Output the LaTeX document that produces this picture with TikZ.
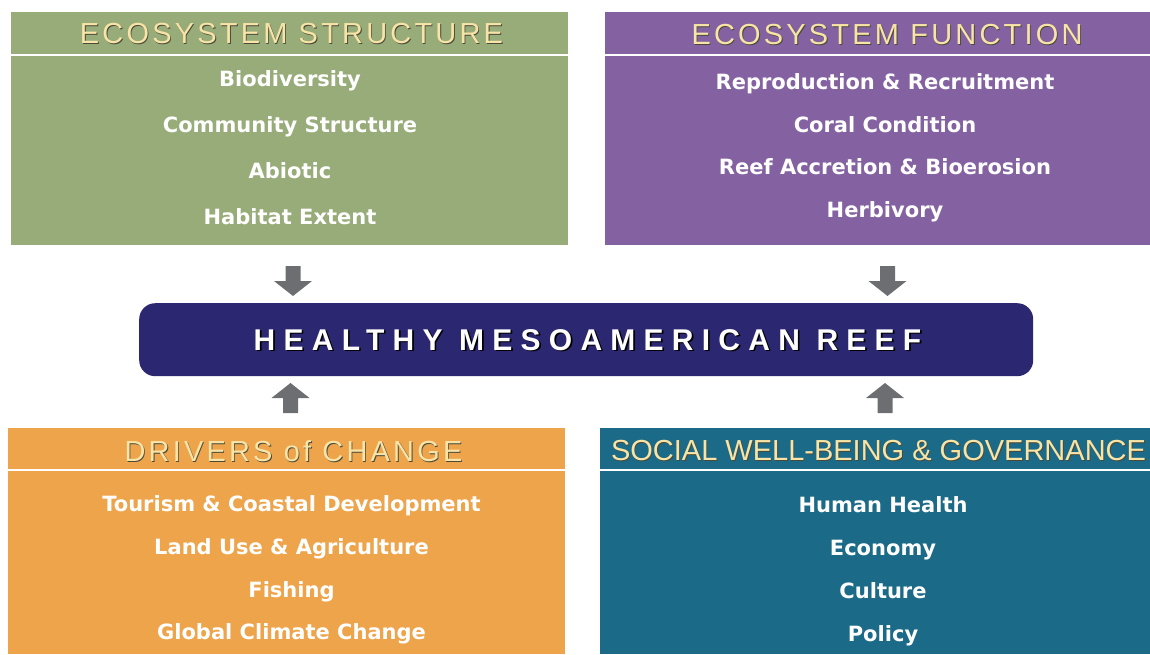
\documentclass[tikz,border=0pt]{standalone}
\usepackage{fontspec}
\setmainfont{DejaVu Sans}
\newfontfamily\headfont{Liberation Sans}
\newfontfamily\titlefont{Liberation Sans}
\usetikzlibrary{positioning}

\definecolor{structgreen}{HTML}{98AC7A}
\definecolor{funcpurple}{HTML}{8462A2}
\definecolor{driverorange}{HTML}{EEA44B}
\definecolor{socialteal}{HTML}{1B6A87}
\definecolor{reefnavy}{HTML}{2B2771}
\definecolor{headcream}{HTML}{F7E4A6}
\definecolor{headshade}{HTML}{4A4A3A}
\definecolor{arrowgray}{HTML}{6D6E71}

\tikzset{
  panel/.style={fill=#1, draw=none, anchor=north west, inner sep=0pt},
  rule/.style={draw=white, line width=2pt},
  headtext/.style={text=headcream, inner sep=0pt, anchor=center},
  headshadow/.style={text=headshade, inner sep=0pt, anchor=center, xshift=0.9pt, yshift=-0.9pt},
  item/.style={text=white, inner sep=0pt, anchor=center,
    font=\bfseries\fontsize{21}{21}\selectfont, text height=15pt, text depth=4pt},
  titlestyle/.style={inner sep=0pt,
    font=\titlefont\bfseries\fontsize{30}{30}\selectfont\addfontfeature{LetterSpace=27.5}},
  downarrow/.pic={\fill[arrowgray] (-7.5,-15) -- (7.5,-15) -- (7.5,0) -- (19,0)
      -- (0,15) -- (-19,0) -- (-7.5,0) -- cycle;},
}

% header label in cream with a dark drop shadow
\newcommand\panelhead[4]{% name, position, letter spacing, text
  \node[headshadow, font=\headfont\fontsize{29}{29}\selectfont\addfontfeature{LetterSpace=#3}] at (#2) {#4};
  \node[headtext, font=\headfont\fontsize{29}{29}\selectfont\addfontfeature{LetterSpace=#3}] (#1) at (#2) {#4};
}

\begin{document}
\begin{tikzpicture}[x=1pt, y=-1pt]
  \useasboundingbox (0,0) rectangle (1150,654);

  % four panels
  \node[panel=structgreen, minimum width=557pt, minimum height=233pt] (structure) at (11,12) {};
  \node[panel=funcpurple, minimum width=545pt, minimum height=233pt] (function) at (605,12) {};
  \node[panel=driverorange, minimum width=557pt, minimum height=226pt] (drivers) at (8,428) {};
  \node[panel=socialteal, minimum width=550pt, minimum height=226pt] (social) at (600,428) {};

  % separators under the panel headers
  \draw[rule] (11,55) -- (568,55);
  \draw[rule] (605,54.5) -- (1150,54.5);
  \draw[rule] (8,469.5) -- (565,469.5);
  \draw[rule] (600,469.5) -- (1150,469.5);

  % panel headers
  \panelhead{structhead}{291.5,34}{11}{ECOSYSTEM STRUCTURE}
  \panelhead{funchead}{887,35}{11}{ECOSYSTEM FUNCTION}
  \panelhead{drivhead}{293.5,451}{11}{DRIVERS of CHANGE}
  \panelhead{sochead}{878.5,451}{0}{SOCIAL WELL-BEING \& GOVERNANCE}

  % ecosystem structure
  \node[item] (s1) at (290,81) {Biodiversity};
  \node[item] (s2) at (290,127) {Community Structure};
  \node[item] (s3) at (290,173) {Abiotic};
  \node[item] (s4) at (290,219) {Habitat Extent};

  % ecosystem function
  \node[item] (f1) at (885,84) {Reproduction \& Recruitment};
  \node[item] (f2) at (885,127) {Coral Condition};
  \node[item] (f3) at (885,169) {Reef Accretion \& Bioerosion};
  \node[item] (f4) at (885,212) {Herbivory};

  % drivers of change
  \node[item] (d1) at (291.5,506) {Tourism \& Coastal Development};
  \node[item] (d2) at (291.5,549) {Land Use \& Agriculture};
  \node[item] (d3) at (291.5,592) {Fishing};
  \node[item] (d4) at (291.5,634) {Global Climate Change};

  % social well-being and governance
  \node[item] (g1) at (883,507) {Human Health};
  \node[item] (g2) at (883,550) {Economy};
  \node[item] (g3) at (883,593) {Culture};
  \node[item] (g4) at (883,636) {Policy};

  % central goal
  \node[fill=reefnavy, rounded corners=16pt, minimum width=894pt, minimum height=73pt,
        anchor=north west, inner sep=0pt] (reef) at (139,303) {};
  \node[titlestyle, text=black, xshift=1.6pt, yshift=-1.6pt] at (587.5,340) {HEALTHY MESOAMERICAN REEF};
  \node[titlestyle, text=white] (reeftitle) at (587.5,340) {HEALTHY MESOAMERICAN REEF};

  % block arrows into the central goal
  \pic at (293,281) {downarrow};
  \pic at (887.5,281) {downarrow};
  \pic[rotate=180] at (290.5,398) {downarrow};
  \pic[rotate=180] at (885,398) {downarrow};
\end{tikzpicture}
\end{document}
